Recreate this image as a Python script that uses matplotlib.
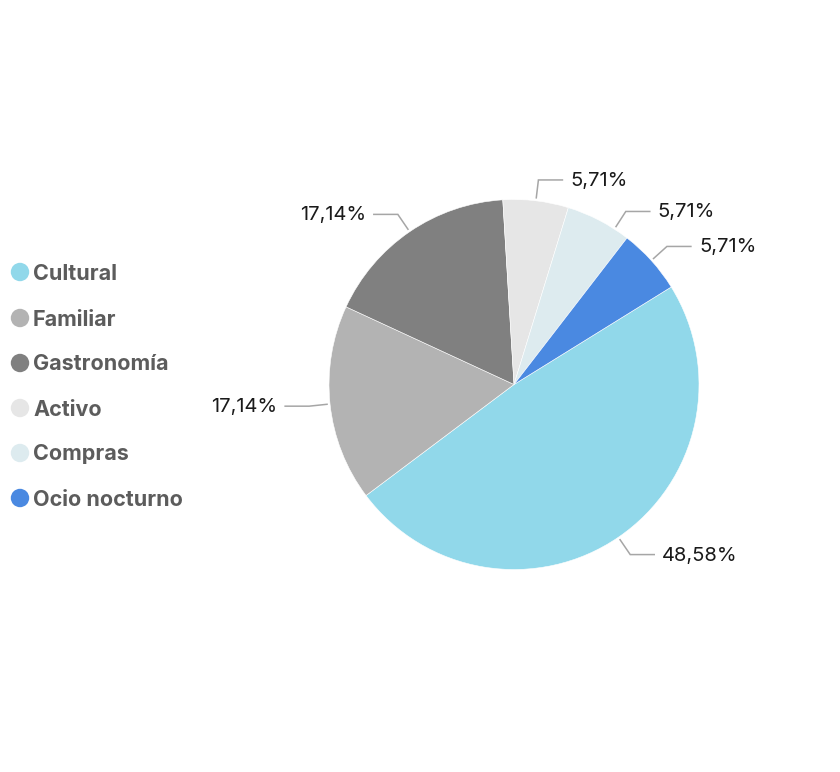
import numpy as np
import matplotlib
matplotlib.use("Agg")
import matplotlib.pyplot as plt

categories = ["Cultural", "Familiar", "Gastronomía", "Activo", "Compras", "Ocio nocturno"]
values = [48.58, 17.14, 17.14, 5.71, 5.71, 5.71]
labels = ["48,58%", "17,14%", "17,14%", "5,71%", "5,71%", "5,71%"]
colors = ["#91D8EA", "#B3B3B3", "#808080", "#E6E6E6", "#DDEBEF", "#4A89E1"]
# small angular nudges of label anchors (deg) to mimic overlap avoidance
label_shift = [0, 0, 0, 0, -5.5, 0]

W, H = 840, 772
fig = plt.figure(figsize=(W / 100, H / 100), dpi=100)
ax = fig.add_axes([0, 0, 1, 1])
plt.rcParams['font.family'] = ['Inter', 'DejaVu Sans']

cx, cy, R = 514, H - 384.5, 185
start = 31.8
wedges, _ = ax.pie(values, colors=colors, startangle=start, counterclock=False,
                   center=(cx, cy), radius=R, frame=True,
                   wedgeprops=dict(edgecolor="white", linewidth=0.4))
ax.set_xlim(0, W)
ax.set_ylim(0, H)
ax.set_aspect('equal')
ax.axis('off')

total = sum(values)
ang = start
for v, lab, sh in zip(values, labels, label_shift):
    span = v / total * 360
    mid = np.deg2rad(ang - span / 2 + sh)
    ang -= span
    c, s = np.cos(mid), np.sin(mid)
    x0, y0 = cx + (R + 3) * c, cy + (R + 3) * s
    x1, y1 = cx + (R + 21) * c, cy + (R + 21) * s
    d = 1 if c >= 0 else -1
    x2 = x1 + d * 24
    ax.plot([x0, x1, x2], [y0, y1, y1], color="#A6A6A6", lw=1.1, solid_joinstyle='miter')
    ax.text(x2 + d * 8, y1 - 1, lab, ha='left' if d > 0 else 'right', va='center',
            fontsize=14.5, color="#1a1a1a")

leg_y = [272, 318, 363, 408, 453, 498]
for cat, col, yy in zip(categories, colors, leg_y):
    ax.scatter([20], [H - yy], s=np.pi * 10 ** 2 * 0.56, color=col, edgecolors='none')
    ax.text(33, H - yy - 1.5, cat, ha='left', va='center', fontsize=15.5, fontweight='bold',
            color="#5c5c5c")

fig.savefig("out.png", dpi=100)
